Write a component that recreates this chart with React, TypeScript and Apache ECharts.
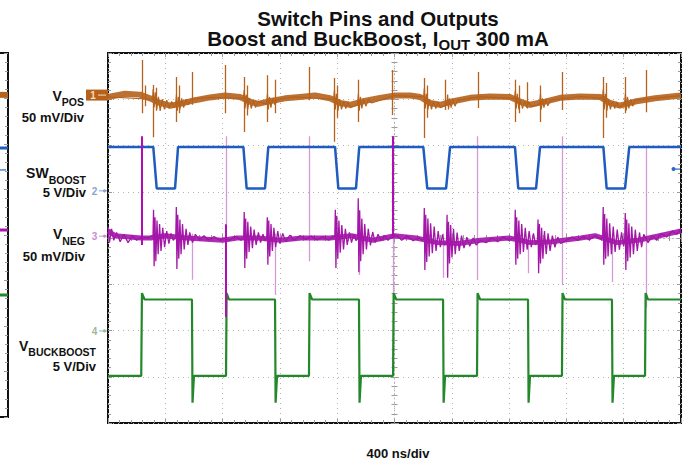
import React, { useEffect, useRef } from "react";
import * as echarts from "echarts";

// ---------- scales (time in ns, amplitude in screen divisions) ----------
const T_MIN = -2000;
const T_MAX = 2000;
const T_STEP = 400;
const DIV_MIN = -4;
const DIV_MAX = 4;

// ---------- texts ----------
const titleLine1 = "Switch Pins and Outputs";
const titleLine2 = ["Boost and BuckBoost, I", "OUT", " 300 mA"];
const xAxisLabel = "400 ns/div";
const channelNames = [["V", "POS"], ["SW", "BOOST"], ["V", "NEG"], ["V", "BUCKBOOST"]];
const channelScales = ["50 mV/Div", "5 V/Div", "50 mV/Div", "5 V/Div"];
const channelMarkers = ["1", "2", "3", "4"];
const channelMarkerLevels = [3.09, 1.02, 0.04, -2.01];
const rightMarkerLevel = 1.49;

// ---------- VPOS (ch1) ----------
const vposBand: [number, number][] = [
  [-2000, 3.05], [-1881, 3.12], [-1777, 3.1], [-1707, 3.02], [-1637, 2.92], [-1567, 2.86], [-1497, 2.9],
  [-1393, 2.98], [-1288, 3.04], [-1183, 3.08], [-1079, 3.05], [-1009, 2.95], [-953, 2.9], [-883, 2.95],
  [-764, 3.02], [-660, 3.05], [-555, 3.08], [-450, 3.02], [-380, 2.92], [-311, 2.88], [-227, 2.95],
  [-101, 3.03], [5, 3.08], [110, 3.08], [180, 3.05], [248, 2.92], [318, 2.88], [401, 2.95], [527, 3.03],
  [667, 3.06], [806, 3.05], [876, 2.95], [946, 2.88], [1051, 2.95], [1156, 3.03], [1295, 3.06],
  [1435, 3.05], [1504, 2.92], [1574, 2.86], [1679, 2.95], [1819, 3.02], [2000, 3.08],
];
const vposNoise: [number, number][] = [
  [-2000, 3.05],
  [-1690, 3.0], [-1684, 3.22], [-1678, 2.82], [-1670, 3.15], [-1660, 2.78], [-1648, 3.05], [-1636, 2.75],
  [-1622, 3.0], [-1606, 2.78], [-1590, 2.98], [-1572, 2.8], [-1556, 2.95], [-1540, 2.82],
  [-1528, 2.88], [-1522, 3.1], [-1516, 2.75], [-1508, 3.05], [-1498, 2.78], [-1486, 3.02], [-1472, 2.82],
  [-1456, 3.0], [-1440, 2.88], [-1420, 3.0], [-1300, 3.04],
  [-1055, 3.02], [-1049, 3.2], [-1043, 2.8], [-1035, 3.1], [-1025, 2.78], [-1013, 3.02], [-1000, 2.8],
  [-985, 2.98], [-970, 2.82], [-955, 2.95],
  [-893, 2.9], [-887, 3.12], [-881, 2.78], [-873, 3.05], [-863, 2.82], [-850, 3.02], [-835, 2.88],
  [-815, 3.0], [-700, 3.05],
  [-425, 3.0], [-419, 3.2], [-413, 2.78], [-405, 3.12], [-395, 2.75], [-383, 3.0], [-370, 2.78],
  [-355, 2.96], [-340, 2.8], [-325, 2.94], [-310, 2.82],
  [-258, 2.88], [-252, 3.12], [-246, 2.75], [-238, 3.05], [-228, 2.8], [-215, 3.0], [-200, 2.85],
  [-182, 3.0], [-160, 2.92], [0, 3.08],
  [203, 3.05], [209, 3.25], [215, 2.8], [223, 3.12], [233, 2.78], [245, 3.0], [258, 2.78], [272, 2.96],
  [288, 2.8], [304, 2.94], [320, 2.82],
  [365, 2.88], [371, 3.1], [377, 2.78], [385, 3.02], [395, 2.82], [408, 3.0], [422, 2.85], [440, 2.98],
  [600, 3.05],
  [838, 3.02], [844, 3.2], [850, 2.8], [858, 3.12], [868, 2.78], [880, 3.0], [893, 2.8], [908, 2.96],
  [923, 2.82], [938, 2.94], [953, 2.84],
  [1013, 2.9], [1019, 3.12], [1025, 2.78], [1033, 3.02], [1043, 2.82], [1056, 3.0], [1070, 2.86],
  [1090, 2.98], [1300, 3.06],
  [1452, 3.02], [1458, 3.22], [1464, 2.78], [1472, 3.12], [1482, 2.75], [1494, 3.0], [1507, 2.78],
  [1522, 2.96], [1537, 2.8], [1552, 2.94], [1567, 2.82],
  [1606, 2.9], [1612, 3.12], [1618, 2.76], [1626, 3.05], [1636, 2.8], [1649, 3.0], [1663, 2.85],
  [1680, 2.98], [2000, 3.08],
];
// [time, low, high]
const vposSpikes: [number, number, number][] = [
  [-1763, 2.7, 3.85], [-1740, 2.85, 3.3], [-1686, 2.18, 3.31], [-1660, 2.75, 3.25], [-1525, 2.51, 3.48],
  [-1500, 2.7, 3.3], [-1414, 2.88, 3.59], [-1183, 2.7, 3.74], [-1051, 2.29, 3.48], [-1030, 2.65, 3.3],
  [-890, 2.51, 3.52], [-834, 2.7, 3.42], [-597, 2.98, 3.7], [-422, 2.08, 3.46], [-400, 2.6, 3.3],
  [-255, 2.51, 3.42], [-17, 2.66, 3.63], [206, 2.16, 3.46], [230, 2.6, 3.3], [353, 2.77, 3.42],
  [583, 2.81, 3.59], [841, 2.51, 3.42], [870, 2.7, 3.3], [925, 2.8, 3.37], [1016, 2.51, 3.3],
  [1169, 2.77, 3.59], [1455, 2.16, 3.48], [1480, 2.6, 3.35], [1609, 2.7, 3.48], [1756, 2.72, 3.63],
];

// ---------- SW BOOST (ch2) ----------
const swBoost: [number, number][] = [
  [-2000, 1.97], [-1684, 1.97], [-1660, 1.07], [-1532, 1.07], [-1511, 1.97],
  [-1055, 1.97], [-1032, 1.07], [-904, 1.07], [-881, 1.97],
  [-415, 1.97], [-392, 1.07], [-269, 1.07], [-246, 1.97],
  [201, 1.97], [229, 1.07], [360, 1.07], [388, 1.97],
  [841, 1.97], [864, 1.07], [988, 1.07], [1016, 1.97],
  [1458, 1.97], [1481, 1.07], [1609, 1.07], [1639, 1.97], [2000, 1.97],
];

// ---------- VNEG (ch3) ----------
const vnegBand: [number, number][] = [
  [-2000, 0.15], [-1950, 0.05], [-1770, 0.0], [-1700, 0.0], [-1600, 0.05], [-1450, 0.0], [-1200, -0.05],
  [-1100, 0.0], [-950, 0.0], [-800, -0.05], [-650, 0.0], [-450, 0.0], [-300, 0.05], [-150, -0.05],
  [0, 0.05], [150, 0.0], [300, -0.1], [450, -0.12], [600, -0.05], [800, 0.0], [950, -0.1], [1100, -0.08],
  [1300, 0.0], [1400, 0.05], [1550, -0.1], [1700, -0.05], [1850, 0.05], [2000, 0.15],
];
const vnegNoise: [number, number][] = [
  [-2000, 0.25], [-1990, -0.1], [-1975, 0.2], [-1960, -0.05], [-1940, 0.12], [-1915, -0.08], [-1890, 0.08],
  [-1860, -0.1], [-1830, 0.05], [-1800, -0.05], [-1770, 0.02], [-1720, 0.0], [-1695, 0.05],
  [-1686, 0.02], [-1682, 0.61], [-1678, -0.61], [-1672, 0.45], [-1666, -0.5], [-1658, 0.38], [-1650, -0.35],
  [-1640, 0.3], [-1630, -0.28], [-1618, 0.22], [-1605, -0.2], [-1590, 0.15], [-1575, -0.12], [-1560, 0.1],
  [-1545, -0.05],
  [-1527, 0.02], [-1523, 0.67], [-1519, -0.67], [-1513, 0.5], [-1506, -0.45], [-1498, 0.4], [-1490, -0.35],
  [-1480, 0.3], [-1468, -0.25], [-1455, 0.2], [-1442, -0.15], [-1430, 0.12], [-1410, -0.1], [-1390, 0.08],
  [-1360, -0.05], [-1330, 0.05], [-1300, -0.05], [-1260, 0.03], [-1220, -0.05], [-1190, 0.0],
  [-1150, -0.05], [-1110, 0.03], [-1070, -0.05],
  [-1053, 0.0], [-1049, 0.56], [-1045, -0.65], [-1039, 0.42], [-1032, -0.45], [-1024, 0.35], [-1015, -0.3],
  [-1004, 0.25], [-992, -0.22], [-980, 0.18], [-966, -0.15], [-950, 0.12], [-935, -0.1], [-918, 0.08],
  [-905, -0.06],
  [-892, 0.0], [-888, 0.45], [-884, -0.58], [-878, 0.38], [-871, -0.4], [-862, 0.3], [-853, -0.28],
  [-842, 0.22], [-830, -0.2], [-815, 0.15], [-800, -0.12], [-780, 0.1], [-760, -0.08], [-730, 0.06],
  [-700, -0.05], [-660, 0.05], [-620, -0.03], [-580, 0.04], [-540, -0.04], [-500, 0.03], [-460, -0.05],
  [-430, 0.03],
  [-417, 0.02], [-413, 0.61], [-409, -0.65], [-403, 0.48], [-396, -0.45], [-388, 0.38], [-379, -0.32],
  [-368, 0.28], [-356, -0.25], [-343, 0.2], [-330, -0.15], [-315, 0.12], [-300, -0.1], [-285, 0.08],
  [-268, -0.06],
  [-257, 0.0], [-253, 0.86], [-249, -0.74], [-243, 0.6], [-236, -0.5], [-228, 0.42], [-219, -0.35],
  [-208, 0.3], [-196, -0.25], [-183, 0.2], [-168, -0.16], [-152, 0.13], [-135, -0.1], [-115, 0.08],
  [-95, -0.06], [-70, 0.05], [-45, -0.05], [-20, 0.04],
  [20, 0.05], [50, -0.05], [90, 0.04], [130, -0.06], [170, 0.0], [195, -0.05],
  [204, -0.02], [208, 0.65], [212, -0.69], [218, 0.5], [225, -0.52], [233, 0.42], [242, -0.4], [252, 0.32],
  [264, -0.33], [277, 0.25], [290, -0.28], [305, 0.15], [320, -0.2], [335, 0.08], [348, -0.15],
  [363, -0.1], [367, 0.5], [371, -0.86], [377, 0.35], [384, -0.55], [392, 0.28], [401, -0.42], [412, 0.2],
  [424, -0.35], [437, 0.12], [452, -0.28], [468, 0.05], [485, -0.22], [505, 0.02], [525, -0.18],
  [550, 0.0], [570, -0.15], [600, -0.05], [640, -0.1], [680, 0.0], [720, -0.08], [760, 0.02],
  [800, -0.05], [830, 0.0],
  [839, 0.0], [843, 0.61], [847, -0.58], [853, 0.45], [860, -0.45], [868, 0.38], [877, -0.35], [888, 0.3],
  [900, -0.3], [913, 0.22], [926, -0.25], [940, 0.15], [955, -0.2], [970, 0.1], [985, -0.15],
  [998, -0.05], [1002, 0.4], [1006, -0.76], [1012, 0.3], [1019, -0.55], [1027, 0.22], [1036, -0.45],
  [1047, 0.15], [1059, -0.35], [1072, 0.1], [1086, -0.28], [1102, 0.05], [1120, -0.2], [1140, 0.02],
  [1160, -0.12], [1200, -0.05], [1240, 0.02], [1280, -0.05], [1320, 0.03], [1360, -0.04], [1400, 0.05],
  [1440, -0.02],
  [1453, 0.02], [1457, 0.67], [1461, -0.58], [1467, 0.52], [1474, -0.45], [1482, 0.42], [1491, -0.4],
  [1502, 0.32], [1514, -0.35], [1527, 0.25], [1540, -0.3], [1555, 0.18], [1570, -0.25], [1585, 0.12],
  [1600, -0.18],
  [1607, 0.0], [1611, 0.54], [1615, -0.69], [1621, 0.4], [1628, -0.5], [1636, 0.32], [1645, -0.42],
  [1656, 0.25], [1668, -0.35], [1681, 0.18], [1695, -0.28], [1710, 0.12], [1725, -0.2], [1740, 0.08],
  [1770, -0.1], [1800, 0.05], [1830, -0.05], [1860, 0.1], [1900, 0.02], [1940, 0.15], [1970, 0.08],
  [2000, 0.2],
];
const vnegSpikesBright: [number, number, number][] = [
  [-1763, -0.15, 2.2], [-1176, -1.71, 0.3], [-10, 0.0, 2.2],
];
const vnegSpikesLight: [number, number, number][] = [
  [-1414, -0.9, 0.1], [-1176, 0.3, 2.2], [-834, -1.23, 0.1], [-597, -0.5, 2.2], [-248, -0.8, 0.1],
  [-10, -1.19, 0.0], [339, -0.86, 0.1], [576, -0.91, 2.2], [932, -0.76, 0.1], [1169, -1.02, 2.2],
  [1518, -0.95, 0.1], [1756, -1.5, 2.0],
];

// ---------- V BUCKBOOST (ch4) ----------
const vBuckBoost: [number, number][] = [
  [-2000, -2.98], [-1768, -2.98], [-1763, -1.19], [-1745, -1.33], [-1414, -1.33], [-1410, -3.56],
  [-1400, -2.98], [-1176, -2.98], [-1172, -1.19], [-1155, -1.33], [-834, -1.33], [-830, -3.56],
  [-820, -2.98], [-597, -2.98], [-593, -1.19], [-575, -1.33], [-248, -1.33], [-244, -3.56],
  [-234, -2.98], [-10, -2.98], [-6, -1.19], [12, -1.33], [339, -1.33], [343, -3.56], [353, -2.98],
  [576, -2.98], [580, -1.19], [598, -1.33], [932, -1.33], [936, -3.56], [946, -2.98], [1169, -2.98],
  [1173, -1.19], [1190, -1.33], [1518, -1.33], [1522, -3.56], [1532, -2.98], [1749, -2.98],
  [1753, -1.19], [1770, -1.33], [2000, -1.33],
];

// ---------- neighbouring screenshot fragment at the far left ----------
const prevTraceLevels = [3.08, 1.91, 0.11, -1.32];
const prevMarkerLevel = 1.43;

const BROWN = "#b5621c";
const BLUE = "#1f5cc0";
const PURPLE = "#a316a8";
const GREEN = "#23882a";
const traceColors = [BROWN, BLUE, PURPLE, GREEN];
const markerColors = ["#f6dcc0", "#87a3d3", "#c98fcf", "#9bb99b"];
const FF = "'Liberation Sans', Arial, Helvetica, sans-serif";

const GRID_L = 108, GRID_T = 53, GRID_W = 573, GRID_H = 370;

export default function App() {
  const ref = useRef<HTMLDivElement>(null);
  useEffect(() => {
    if (!ref.current) return;
    const chart = echarts.init(ref.current, null, { renderer: "svg" });

    const tickStyle = { color: "#9a9a9a", width: 1 };
    const mkAxis = (o: any) => ({
      type: "value",
      axisLabel: { show: false },
      splitLine: { show: false },
      axisLine: { show: false },
      axisTick: { show: false },
      minorTick: { show: false },
      ...o,
    });
    const ticks = (inside: boolean) => ({
      axisTick: { show: true, inside, length: 4, lineStyle: tickStyle },
      minorTick: { show: true, splitNumber: 5, length: 3, lineStyle: tickStyle },
    });
    const dotted = { show: true, lineStyle: { type: [1, 4], color: "#b3b3b3", width: 1 } };
    const centerLine = { type: [1, 3], color: "#b8b8b8", width: 1 };
    const xr = { gridIndex: 0, min: T_MIN, max: T_MAX, interval: T_STEP };
    const yr = { gridIndex: 0, min: DIV_MIN, max: DIV_MAX, interval: 1 };

    const spikeData = (arr: [number, number, number][]) =>
      arr.map(([t, lo, hi]) => ({ coords: [[t, lo], [t, hi]] }));

    const lineSeries = (data: any, color: string, width: number, z: number, extra: any = {}) => ({
      type: "line",
      xAxisIndex: 0,
      yAxisIndex: 0,
      data,
      showSymbol: false,
      symbol: "none",
      silent: true,
      z,
      lineStyle: { color, width, ...extra },
    });
    const spikeSeries = (arr: any, color: string, width: number, z: number) => ({
      type: "lines",
      coordinateSystem: "cartesian2d",
      xAxisIndex: 0,
      yAxisIndex: 0,
      silent: true,
      z,
      data: spikeData(arr),
      lineStyle: { color, width, opacity: 1 },
    });

    const option: any = {
      animation: false,
      backgroundColor: "#ffffff",
      grid: [
        {
          left: GRID_L, top: GRID_T, width: GRID_W, height: GRID_H, show: true,
          borderColor: "#111", borderWidth: 2, backgroundColor: "transparent",
          containLabel: false, outerBoundsMode: "none",
        },
        {
          left: -20, top: 53, width: 28, height: 364, show: true,
          borderColor: "#111", borderWidth: 2, backgroundColor: "transparent",
          containLabel: false, outerBoundsMode: "none",
        },
      ],
      xAxis: [
        mkAxis({ ...xr, position: "bottom", axisLine: { show: true, onZero: true, lineStyle: centerLine }, ...ticks(true) }),
        mkAxis({ ...xr, position: "bottom", axisLine: { show: false, onZero: true }, ...ticks(false) }),
        mkAxis({ ...xr, position: "bottom", axisLine: { show: false, onZero: false }, splitLine: dotted, ...ticks(true) }),
        mkAxis({ ...xr, position: "top", axisLine: { show: false, onZero: false }, ...ticks(true) }),
        mkAxis({ gridIndex: 1, min: 0, max: 1, show: false }),
      ],
      yAxis: [
        mkAxis({ ...yr, position: "left", axisLine: { show: true, onZero: true, lineStyle: centerLine }, ...ticks(true) }),
        mkAxis({ ...yr, position: "left", axisLine: { show: false, onZero: true }, ...ticks(false) }),
        mkAxis({ ...yr, position: "left", axisLine: { show: false, onZero: false }, splitLine: dotted, ...ticks(true) }),
        mkAxis({ ...yr, position: "right", axisLine: { show: false, onZero: false }, ...ticks(true) }),
        mkAxis({ gridIndex: 1, min: DIV_MIN, max: DIV_MAX, interval: 1, position: "right", axisLine: { show: false, onZero: false }, ...ticks(true) }),
      ],
      series: [
        lineSeries(vposBand, BROWN, 6, 3, { opacity: 0.9 }),
        lineSeries(vposNoise, BROWN, 1.2, 4),
        spikeSeries(vposSpikes, BROWN, 1.3, 4),
        lineSeries(swBoost, BLUE, 2.5, 5),
        spikeSeries(vnegSpikesLight, "#d49ad6", 1.3, 3),
        lineSeries(vnegBand, PURPLE, 5, 5, { opacity: 0.9 }),
        lineSeries(vnegNoise, PURPLE, 1.3, 6),
        lineSeries(vBuckBoost, GREEN, 2.2, 5),
        spikeSeries(vnegSpikesBright, "#b00db5", 2, 7),
        ...prevTraceLevels.map((lv, i) => ({
          type: "line",
          xAxisIndex: 4,
          yAxisIndex: 4,
          data: [[0, lv], [1, lv]],
          showSymbol: false,
          symbol: "none",
          silent: true,
          lineStyle: { color: traceColors[i], width: i === 0 ? 6 : 3 },
        })),
      ],
    };
    chart.setOption(option);

    // ---------- texts and channel markers ----------
    const ctx = document.createElement("canvas").getContext("2d")!;
    const tw = (s: string, size: number) => {
      ctx.font = `bold ${size}px ${FF}`;
      return ctx.measureText(s).width;
    };
    const txt = (s: string, x: number, base: number, size: number, align = "left", fill = "#111") => ({
      type: "text",
      x,
      y: base - 0.32 * size,
      silent: true,
      z: 100,
      style: { text: s, fill, fontSize: size, fontWeight: "bold", fontFamily: FF, align, verticalAlign: "middle" },
    });
    const els: any[] = [];

    // title
    const TS = 20.5;
    els.push(txt(titleLine1, 378, 25.5, TS, "center"));
    const w1 = tw(titleLine2[0], TS), w2 = tw(titleLine2[1], 15), w3 = tw(titleLine2[2], TS);
    const x0 = 378 - (w1 + w2 + w3) / 2;
    els.push(txt(titleLine2[0], x0, 45, TS));
    els.push(txt(titleLine2[1], x0 + w1, 49, 15));
    els.push(txt(titleLine2[2], x0 + w1 + w2, 45, TS));

    // channel labels
    const labelRight = [84, 86, 85, 96];
    const nameBase = [100, 177, 238, 350];
    const subBase = [105, 183, 244, 355];
    const scaleBase = [122, 197, 261, 371];
    channelNames.forEach(([m, s], i) => {
      const ws = tw(s, 10.5), wm = tw(m, 14);
      els.push(txt(m, labelRight[i] - ws - wm, nameBase[i], 14));
      els.push(txt(s, labelRight[i] - ws, subBase[i], 10.5));
      els.push(txt(channelScales[i], labelRight[i], scaleBase[i], 13, "right"));
    });

    // x label
    els.push(txt(xAxisLabel, 398, 458, 13, "center"));

    // channel markers
    channelMarkerLevels.forEach((lv, i) => {
      const y = (chart.convertToPixel({ seriesIndex: 0 }, [T_MIN, lv]) as number[])[1];
      if (i === 0) {
        els.push({ type: "rect", silent: true, z: 90, shape: { x: 86, y: y - 5.5, width: 22, height: 11 }, style: { fill: BROWN } });
        els.push({ ...txt(channelMarkers[i], 93, y + 3.4, 10, "center", markerColors[i]) });
        els.push({ type: "line", silent: true, z: 100, shape: { x1: 98, y1: y, x2: 106, y2: y }, style: { stroke: markerColors[i], lineWidth: 1 } });
      } else {
        els.push(txt(channelMarkers[i], 94.5, y + 3.4, 10, "center", markerColors[i]));
        els.push({ type: "line", silent: true, z: 100, shape: { x1: 99, y1: y, x2: 107, y2: y }, style: { stroke: markerColors[i], lineWidth: 1 } });
        els.push({ type: "circle", silent: true, z: 100, shape: { cx: 104.5, cy: y, r: 1.6 }, style: { fill: markerColors[i] } });
      }
    });
    const ry = (chart.convertToPixel({ seriesIndex: 0 }, [T_MIN, rightMarkerLevel]) as number[])[1];
    els.push({ type: "line", silent: true, z: 100, shape: { x1: 672, y1: ry, x2: 680, y2: ry }, style: { stroke: "#2e66c4", lineWidth: 1.2 } });
    els.push({ type: "circle", silent: true, z: 100, shape: { cx: 673.5, cy: ry, r: 2 }, style: { fill: "#2e66c4" } });
    const py = (chart.convertToPixel({ seriesIndex: 9 }, [0, prevMarkerLevel]) as number[])[1];
    els.push({ type: "line", silent: true, z: 100, shape: { x1: 0, y1: py, x2: 6, y2: py }, style: { stroke: "#2e66c4", lineWidth: 1.2 } });

    chart.setOption({ graphic: els });

    return () => chart.dispose();
  }, []);

  return (
    <div
      ref={ref}
      style={{ position: "fixed", left: 0, top: 0, width: 687, height: 462, background: "#fff" }}
    />
  );
}
